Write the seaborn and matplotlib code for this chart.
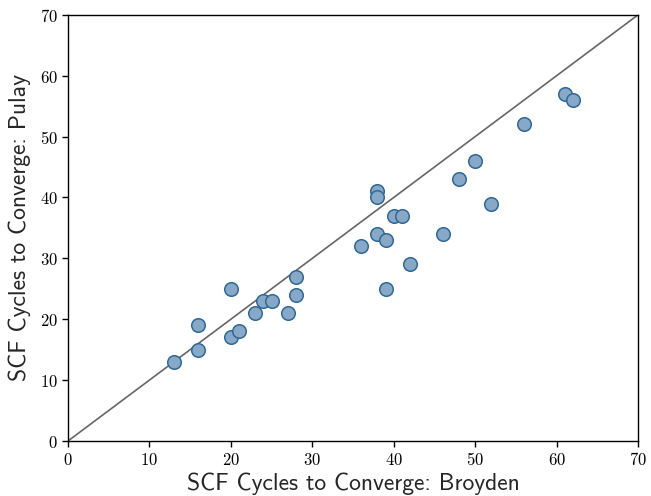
import os
import matplotlib
matplotlib.use("Agg")
import matplotlib.pyplot as plt
from matplotlib.font_manager import FontProperties
import seaborn as sns
import pandas as pd

broyden = [13, 16, 16, 20, 20, 21, 23, 24, 25, 27, 28, 28, 36, 38, 38, 38, 39, 39,
           40, 41, 42, 46, 48, 50, 52, 56, 61, 62]
pulay = [13, 19, 15, 25, 17, 18, 21, 23, 23, 21, 27, 24, 32, 41, 40, 34, 33, 25,
         37, 37, 29, 34, 43, 46, 39, 52, 57, 56]
ticks = [0, 10, 20, 30, 40, 50, 60, 70]

sns.set_style("ticks")
plt.rcParams['mathtext.fontset'] = 'cm'

fontdir = os.path.join(matplotlib.get_data_path(), "fonts", "ttf")
label_fp = FontProperties(fname=os.path.join(fontdir, "cmss10.ttf"), size=17)

df = pd.DataFrame({"Broyden": broyden, "Pulay": pulay})

fig = plt.figure(figsize=(6.51, 4.96), dpi=100)
ax = fig.add_axes([0.1045, 0.111, 0.8755, 0.859])
ax.plot([0, 70], [0, 70], color="#666666", lw=1.2, zorder=1)
sns.scatterplot(data=df, x="Broyden", y="Pulay", ax=ax, s=95,
                color="#88a8c8", edgecolor="#2f6896", linewidth=1.1, zorder=3)
ax.set_xlim(0, 70)
ax.set_ylim(0, 70)
ax.set_xticks(ticks)
ax.set_yticks(ticks)
ax.set_xticklabels([f"${t}$" for t in ticks], fontsize=12)
ax.set_yticklabels([f"${t}$" for t in ticks], fontsize=12)
ax.set_xlabel("SCF Cycles to Converge: Broyden", fontproperties=label_fp, labelpad=2)
ax.set_ylabel("SCF Cycles to Converge: Pulay", fontproperties=label_fp, labelpad=6)
for sp in ax.spines.values():
    sp.set_color("black")
    sp.set_linewidth(1.0)
ax.tick_params(colors="black", length=4, width=1)
fig.savefig("out.png", dpi=100)
